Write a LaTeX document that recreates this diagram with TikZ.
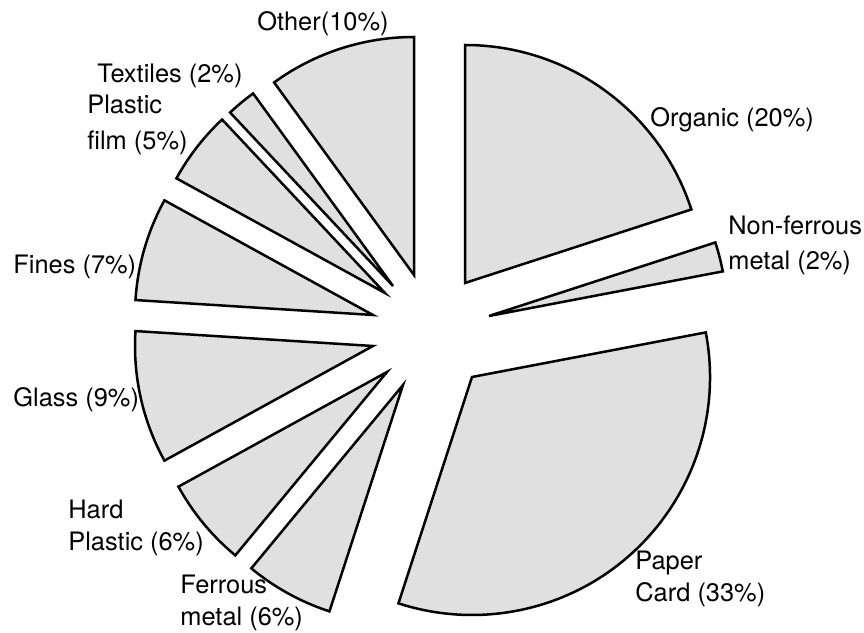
\documentclass[tikz,border=0pt]{standalone}
\usepackage{fontspec}
\setmainfont{TeX Gyre Heros}
\usetikzlibrary{positioning}

\begin{document}
\begin{tikzpicture}[x=0.5pt, y=0.5pt]
	\tikzstyle{wedge}=[draw=black, line width=1.25pt, fill=black!12, line join=miter];
	\tikzstyle{lbl}=[font=\fontsize{12.7}{16}\selectfont, align=left, inner sep=0pt, anchor=west];

	\useasboundingbox (0, 0) rectangle (864, 633);

	% name / apex x / apex y / start angle / end angle
	\foreach \name/\x/\y/\a/\b in {organic/465/350/90/18, nonferrous/489/317/18/10.8,
		paper/472/256/10.8/-108, ferrous/403/248/-108/-129.6, hardplastic/387/261/-129.6/-151.2,
		glass/373/287/-151.2/-183.6, fines/373/318/176.4/151.2, film/385/340/151.2/133.2,
		textiles/393/347/133.2/126, other/414/358/126/90} {
		\coordinate (\name) at (\x, \y);
		\draw[wedge] (\name) -- ++(\a:119pt) arc[start angle=\a, end angle=\b, radius=119pt] -- cycle;
	}

	\node[lbl] (l-other) at (257, 609) {Other(10\%)};
	\node[lbl] (l-textiles) at (97, 557) {Textiles (2\%)};
	\node[lbl, font=\fontsize{12.7}{18}\selectfont] (l-film) at (87, 508) {Plastic\\film (5\%)};
	\node[lbl] (l-fines) at (13, 366) {Fines (7\%)};
	\node[lbl] (l-glass) at (13, 233) {Glass (9\%)};
	\node[lbl] (l-hardplastic) at (68, 105) {Hard\\Plastic (6\%)};
	\node[lbl] (l-ferrous) at (180, 30) {Ferrous\\metal (6\%)};
	\node[lbl] (l-paper) at (635, 54) {Paper\\Card (33\%)};
	\node[lbl] (l-organic) at (650, 513) {Organic (20\%)};
	\node[lbl, font=\fontsize{12.7}{17.5}\selectfont] (l-nonferrous) at (728, 388) {Non-ferrous\\metal (2\%)};
\end{tikzpicture}
\end{document}
